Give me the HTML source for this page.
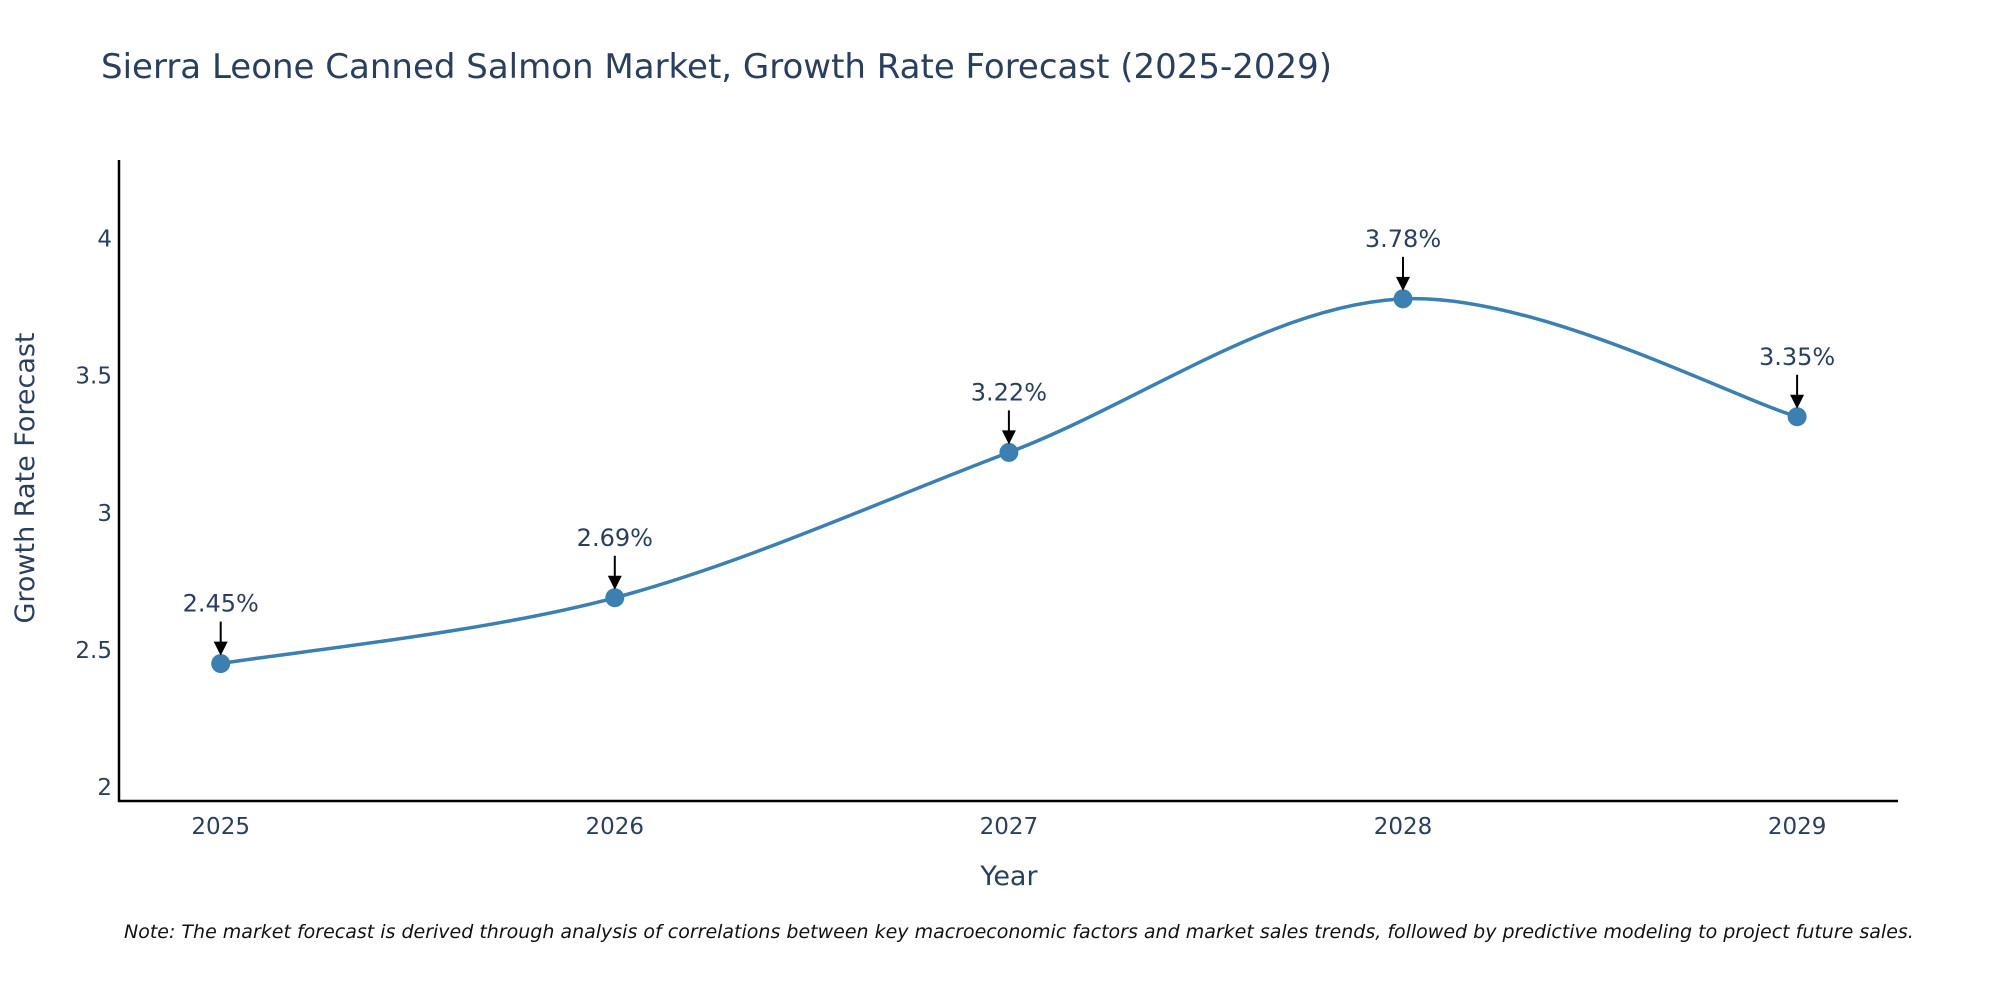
<!DOCTYPE html>
<html><head><meta charset="utf-8"><style>
html,body{margin:0;padding:0;background:#fff;}
svg{display:block;font-family:"DejaVu Sans","Liberation Sans",sans-serif;}
</style></head><body>
<svg id="chart" width="2000" height="1000" viewBox="0 0 2000 1000" xmlns="http://www.w3.org/2000/svg">
<text x="101" y="78" font-size="34" fill="#2a3f5f">Sierra Leone Canned Salmon Market, Growth Rate Forecast (2025-2029)</text>
<g id="yticks"></g>
<g id="xticks"></g>
<line x1="119" y1="160" x2="119" y2="802" stroke="#000" stroke-width="2.5"/>
<line x1="118" y1="801" x2="1898" y2="801" stroke="#000" stroke-width="2.5"/>
<g id="series"></g>
<g id="annots"></g>
<text transform="translate(34,478) rotate(-90)" text-anchor="middle" font-size="27" fill="#2a3f5f">Growth Rate Forecast</text>
<text x="1009" y="885" text-anchor="middle" font-size="27" fill="#2a3f5f">Year</text>
<text x="124" y="938" font-size="19" font-style="italic" fill="#111">Note: The market forecast is derived through analysis of correlations between key macroeconomic factors and market sales trends, followed by predictive modeling to project future sales.</text>
</svg>
<script>
const years = [2025, 2026, 2027, 2028, 2029];
const growth = [2.45, 2.69, 3.22, 3.78, 3.35];
const yTicks = [2, 2.5, 3, 3.5, 4];
const yTickLabels = ["2", "2.5", "3", "3.5", "4"];
const NS = "http://www.w3.org/2000/svg";
function xs(v){ return 220.7 + (v - 2025) * 394.1; }
function ys(v){ return 787 - (v - 2) * 274.25; }
function mk(tag, attrs, parent){ const e=document.createElementNS(NS,tag); for(const k in attrs) e.setAttribute(k,attrs[k]); parent.appendChild(e); return e; }
const yg=document.getElementById('yticks');
yTicks.forEach((t,i)=>{
  const el=mk('text',{x:112,y:ys(t)+8,'text-anchor':'end','font-size':23,fill:'#2a3f5f'},yg);
  
  
  el.textContent=yTickLabels[i];
});
const xg=document.getElementById('xticks');
years.forEach(y=>{
  const el=mk('text',{x:xs(y),y:834,'text-anchor':'middle','font-size':23,fill:'#2a3f5f'},xg);
  
  
  el.textContent=String(y);
});
const pts=years.map((y,i)=>[xs(y),ys(growth[i])]);
let d='M'+pts[0][0]+','+pts[0][1];
for(let i=0;i<pts.length-1;i++){
  const p0=pts[Math.max(0,i-1)],p1=pts[i],p2=pts[i+1],p3=pts[Math.min(pts.length-1,i+2)];
  const c1=[p1[0]+(p2[0]-p0[0])/6,p1[1]+(p2[1]-p0[1])/6];
  const c2=[p2[0]-(p3[0]-p1[0])/6,p2[1]-(p3[1]-p1[1])/6];
  d+=' C'+c1.join(',')+' '+c2.join(',')+' '+p2.join(',');
}
const sg=document.getElementById('series');
const line=mk('path',{d:d,fill:'none',stroke:'#3b80b0','stroke-width':3.5},sg);


const ag=document.getElementById('annots');
pts.forEach((p,i)=>{
  const c=mk('circle',{cx:p[0],cy:p[1],r:9.5,fill:'#3b80b0'},sg);
  
  
  const a=mk('line',{x1:p[0],y1:p[1]-42,x2:p[0],y2:p[1]-20,stroke:'#000','stroke-width':2},ag);
  
  
  const h=mk('polygon',{points:(p[0]-7)+','+(p[1]-22)+' '+(p[0]+7)+','+(p[1]-22)+' '+p[0]+','+(p[1]-8)},ag);
  
  
  const t=mk('text',{x:p[0],y:p[1]-52,'text-anchor':'middle','font-size':24,fill:'#2a3f5f'},ag);
  
  
  t.textContent=growth[i].toFixed(2)+'%';
});
</script>
</body></html>
